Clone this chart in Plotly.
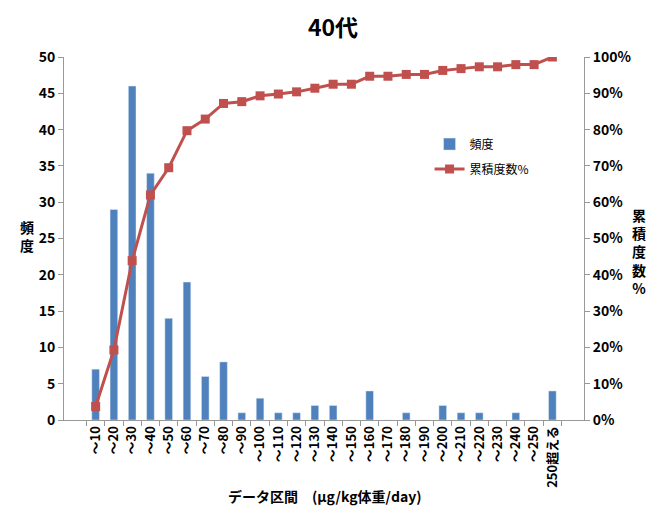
import plotly.graph_objects as go

categories = ["～10", "～20", "～30", "～40", "～50", "～60", "～70", "～80", "～90", "～100",
              "～110", "～120", "～130", "～140", "～150", "～160", "～170", "～180", "～190", "～200",
              "～210", "～220", "～230", "～240", "～250", "250超える"]
freq = [7, 29, 46, 34, 14, 19, 6, 8, 1, 3, 1, 1, 2, 2, 0, 4, 0, 1, 0, 2, 1, 1, 0, 1, 0, 4]
cum_pct = [0.037, 0.193, 0.439, 0.620, 0.695, 0.797, 0.829, 0.872, 0.877, 0.893,
           0.898, 0.904, 0.914, 0.925, 0.925, 0.947, 0.947, 0.952, 0.952, 0.963,
           0.968, 0.973, 0.973, 0.979, 0.979, 1.000]
left_ticks = [0, 5, 10, 15, 20, 25, 30, 35, 40, 45, 50]

FONT = "Noto Sans CJK JP"
fig = go.Figure()
fig.add_trace(go.Bar(x=categories, y=freq, name="頻度", marker_color="#4F81BD",
                     width=0.42, yaxis="y", legendgroup="a"))
fig.add_trace(go.Scatter(x=categories, y=cum_pct, name="累積度数%", yaxis="y2",
                         mode="lines+markers", legendgroup="b",
                         line=dict(color="#C0504D", width=3),
                         marker=dict(symbol="square", size=9, color="#C0504D")))

fig.update_layout(
    width=650, height=500,
    margin=dict(l=56, r=74, t=49, b=88),
    paper_bgcolor="white", plot_bgcolor="white",
    font=dict(family=FONT, color="black"),
    title=dict(text="<b>40代</b>", x=0.5, xanchor="center", y=0.96, yanchor="middle",
               font=dict(size=23, family=FONT)),
    showlegend=True,
    legend=dict(x=0.703, y=0.80, xanchor="left", yanchor="top",
                bgcolor="rgba(0,0,0,0)", font=dict(size=12, family=FONT),
                tracegroupgap=6),
    bargap=0.5,
    xaxis=dict(type="category", showline=True, linecolor="#999999", linewidth=1,
               ticks="outside", tickson="boundaries", ticklen=5, tickcolor="#999999",
               tickangle=-90, tickfont=dict(size=13, family=FONT, weight="bold"),
               showgrid=False, automargin=False),
    yaxis=dict(range=[0, 50], tickvals=left_ticks, showline=True, linecolor="#999999",
               ticks="outside", ticklen=5, tickcolor="#999999", showgrid=False, zeroline=False,
               tickfont=dict(size=14, family=FONT, weight="bold"), automargin=False),
    yaxis2=dict(range=[0, 1], overlaying="y", side="right", tickformat=".0%", dtick=0.1,
                showline=True, linecolor="#999999", ticks="outside", ticklen=5,
                tickcolor="#999999", showgrid=False, zeroline=False,
                tickfont=dict(size=14, family=FONT, weight="bold"), automargin=False),
)

fig.add_annotation(text="<b>データ区間　(μg/kg体重/day)</b>", xref="paper", yref="paper",
                   x=0.502, y=-0.209, showarrow=False, font=dict(size=14, family=FONT),
                   xanchor="center", yanchor="middle")
fig.add_annotation(text="<b>頻<br>度</b>", xref="paper", yref="paper", x=-0.088, y=0.507,
                   showarrow=False, font=dict(size=14, family=FONT), align="center")
fig.add_annotation(text="<b>累<br>積<br>度<br>数<br>%</b>", xref="paper", yref="paper",
                   x=1.123, y=0.463, showarrow=False, font=dict(size=14, family=FONT),
                   align="center")

fig.write_html("out.html")
